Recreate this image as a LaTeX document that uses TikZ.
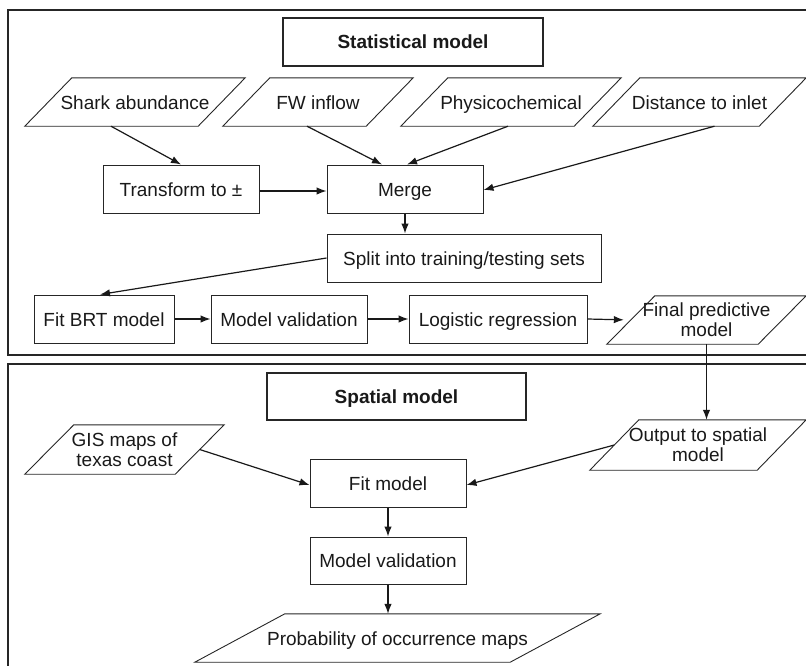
\documentclass[tikz,border=0pt]{standalone}
\usepackage{fontspec}
\setmainfont{Liberation Sans}
\usetikzlibrary{calc,arrows.meta}
\newcommand{\rbox}[7][box,one]{%
  \node[#1, minimum width={(#5-#3)*1pt}, minimum height={(#6-#4)*1pt}] (#2) at ({(#3+#5)/2},{(#4+#6)/2}) {#7};}
\newcommand{\pgram}[8][one]{% opts, name, xl, ytop, xr, ybot, slant, text
  \node[#1, minimum width={(#5-#3)*1pt}, minimum height={(#6-#4)*1pt}] (#2) at ({(#3+#5)/2},{(#4+#6)/2}) {#8};
  \draw[pline] (#2.south west) -- ([xshift=#7pt]#2.north west) -- (#2.north east) -- ([xshift=-#7pt]#2.south east) -- cycle;
  \coordinate (#2-l) at ($(#2.south west)!0.5!([xshift=#7pt]#2.north west)$);
  \coordinate (#2-r) at ($(#2.north east)!0.5!([xshift=-#7pt]#2.south east)$);}
\begin{document}
\begin{tikzpicture}[x=1pt,y=-1pt,
  every node/.style={font=\fontsize{19}{20}\selectfont, align=center, inner sep=0pt, text=black!90},
  one/.style={text height=15pt, text depth=1pt},
  two/.style={yshift=-1pt},
  box/.style={draw=black!85, line width=1pt},
  titlebox/.style={draw=black!85, line width=1.7pt, font=\fontsize{19}{20}\selectfont\bfseries, text height=14.5pt, text depth=1pt},
  pline/.style={draw=black!85, line width=0.9pt},
  frame/.style={draw=black!85, line width=1.4pt},
  arr/.style={-{Latex[length=10pt,width=7.5pt]}, line width=1.2pt, draw=black!90}]
\useasboundingbox (0,0) rectangle (806,665);
% frames
\draw[frame] (808,10) -- (8,10) -- (8,355) -- (808,355);
\draw[frame] (808,364) -- (8,364) -- (8,668);
% statistical model
\rbox[titlebox]{stat}{283}{18}{543}{66}{Statistical model}
\pgram{shark}{25}{78}{245}{126}{47}{Shark abundance}
\pgram{fw}{223}{78}{413}{126}{47}{FW inflow}
\pgram{phys}{401}{78}{621}{126}{47}{Physicochemical}
\pgram{dist}{593}{78}{806}{126}{47}{Distance to inlet}
\rbox{trans}{103}{165}{259}{213}{Transform to ±}
\rbox{merge}{327}{165}{483}{213}{Merge}
\rbox{split}{327}{234}{601}{282}{Split into training/testing sets}
\rbox{brt}{34}{295}{174}{343}{Fit BRT model}
\rbox{mval}{211}{295}{367}{343}{Model validation}
\rbox{logit}{409}{295}{587}{343}{Logistic regression}
\pgram[two]{final}{607}{295}{806}{343}{48}{Final predictive\\model}
% spatial model
\rbox[titlebox]{spat}{267}{373}{526}{420}{Spatial model}
\pgram[two]{gis}{25}{424}{224}{473}{49}{GIS maps of\\texas coast}
\pgram[two]{output}{590}{419}{806}{469}{49}{Output to spatial\\model}
\rbox{fit}{310}{459}{466}{507}{Fit model}
\rbox{mval2}{310}{537}{466}{584}{Model validation}
\pgram{prob}{195}{614}{600}{662}{90}{Probability of occurrence maps}
% connectors
\draw[arr] ($(shark.south)+(-24,0)$) -- (trans.north);
\draw[arr] ($(fw.south)+(-11,0)$) -- ($(merge.north)+(-23,0)$);
\draw[arr] ($(phys.south)+(-3,0)$) -- ($(merge.north)+(2,0)$);
\draw[arr] ($(dist.south)+(15,0)$) -- ($(merge.east)+(0,1)$);
\draw[arr] ($(trans.east)+(0,2)$) -- ($(merge.west)+(0,2)$);
\draw[arr] (merge.south) -- (merge.south |- split.north);
\draw[arr] (split.west) -- ($(brt.north)+(-4,0)$);
\draw[arr] (brt) -- (mval);
\draw[arr] (mval) -- (logit);
\draw[arr, shorten >=7pt] (logit.east) -- (final-l);
\draw[arr] (final.south) -- (final.south |- output.north);
\draw[arr] (gis-r) -- ($(fit.west)+(0,2)$);
\draw[arr] (output-l) -- ($(fit.east)+(0,2)$);
\draw[arr] (fit) -- (mval2);
\draw[arr] (mval2.south) -- (mval2.south |- prob.north);
\end{tikzpicture}
\end{document}
